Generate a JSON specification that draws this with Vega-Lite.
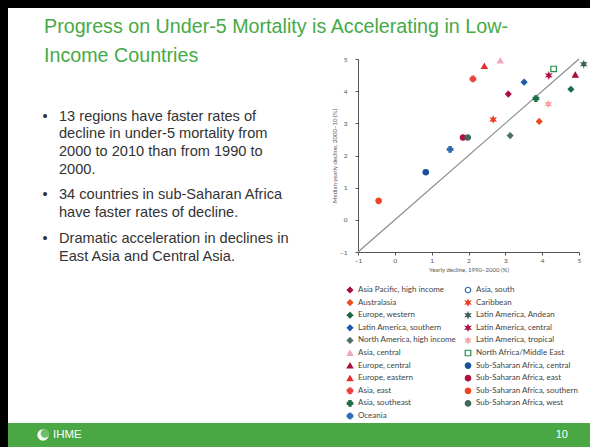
{
  "$schema": "https://vega.github.io/schema/vega-lite/v6.json",
  "padding": 0,
  "background": "white",
  "columns": 3,
  "spacing": 0,
  "bounds": "flush",
  "align": "each",
  "config": {"view": {"stroke": null}, "font": "Liberation Sans"},
  "resolve": {"scale": {"shape": "independent", "fill": "independent", "stroke": "independent"}},
  "datasets": {
    "regions": [
      {"region": "Asia Pacific, high income", "d1990": 3.08, "d2000": 3.91},
      {"region": "Australasia", "d1990": 3.92, "d2000": 3.06},
      {"region": "Europe, western", "d1990": 4.78, "d2000": 4.06},
      {"region": "Latin America, southern", "d1990": 3.51, "d2000": 4.28},
      {"region": "North America, high income", "d1990": 3.13, "d2000": 2.62},
      {"region": "Asia, central", "d1990": 2.86, "d2000": 4.95},
      {"region": "Europe, central", "d1990": 4.9, "d2000": 4.51},
      {"region": "Europe, eastern", "d1990": 2.43, "d2000": 4.78},
      {"region": "Asia, east", "d1990": 2.12, "d2000": 4.38},
      {"region": "Asia, southeast", "d1990": 3.83, "d2000": 3.77},
      {"region": "Oceania", "d1990": 1.5, "d2000": 2.19},
      {"region": "Caribbean", "d1990": 2.67, "d2000": 3.12},
      {"region": "Latin America, Andean", "d1990": 5.13, "d2000": 4.84},
      {"region": "Latin America, central", "d1990": 4.18, "d2000": 4.49},
      {"region": "Latin America, tropical", "d1990": 4.17, "d2000": 3.6},
      {"region": "North Africa/Middle East", "d1990": 4.31, "d2000": 4.69},
      {"region": "Sub-Saharan Africa, central", "d1990": 0.84, "d2000": 1.48},
      {"region": "Sub-Saharan Africa, east", "d1990": 1.85, "d2000": 2.56},
      {"region": "Sub-Saharan Africa, southern", "d1990": -0.44, "d2000": 0.59},
      {"region": "Sub-Saharan Africa, west", "d1990": 1.98, "d2000": 2.56}
    ],
    "diagonal": [{"d1990": -1, "d2000": -1}, {"d1990": 5, "d2000": 5}],
    "title": [{"t": "Progress on Under-5 Mortality is Accelerating in Low-\nIncome Countries"}],
    "bullets": [
      {"line": 1, "bullet": "•", "text": "13 regions have faster rates of"},
      {"line": 2, "text": "decline in under-5 mortality from"},
      {"line": 3, "text": "2000 to 2010 than from 1990 to"},
      {"line": 4, "text": "2000."},
      {"line": 5.42, "bullet": "•", "text": "34 countries in sub-Saharan Africa"},
      {"line": 6.46, "text": "have faster rates of decline."},
      {"line": 7.91, "bullet": "•", "text": "Dramatic acceleration in declines in"},
      {"line": 8.91, "text": "East Asia and Central Asia."}
    ],
    "footer": [{"label": "IHME", "page": "10"}],
    "frame": [{"part": "border"}]
  },
  "concat": [
    {"width": 8, "height": 8, "view": {"fill": "#000000"}, "data": {"name": "frame"}, "layer": [{"mark": {"type": "rule", "color": "#000000", "strokeWidth": 8, "clip": true}, "encoding": {"x": {"value": 4}, "y": {"value": 0}, "y2": {"value": "height"}}}]},
    {"width": 350, "height": 8, "view": {"fill": "#000000"}, "data": {"name": "frame"}, "layer": [{"mark": {"type": "rule", "color": "#000000", "strokeWidth": 8, "clip": true}, "encoding": {"y": {"value": 4}, "x": {"value": 0}, "x2": {"value": "width"}}}]},
    {"width": 232, "height": 8, "view": {"fill": "#000000"}, "data": {"name": "frame"}, "layer": [{"mark": {"type": "rule", "color": "#000000", "strokeWidth": 8, "clip": true}, "encoding": {"y": {"value": 4}, "x": {"value": 0}, "x2": {"value": "width"}}}]},

    {"width": 8, "height": 51, "view": {"fill": "#000000"}, "data": {"name": "frame"}, "layer": [{"mark": {"type": "rule", "color": "#000000", "strokeWidth": 8, "clip": true}, "encoding": {"x": {"value": 4}, "y": {"value": 0}, "y2": {"value": "height"}}}]},
    {
      "width": 350, "height": 51,
      "data": {"name": "title"},
      "layer": [
        {
          "mark": {"type": "text", "align": "left", "baseline": "alphabetic", "font": "Liberation Sans", "fontSize": 19.7, "color": "#46aa46", "lineBreak": "\n", "lineHeight": 29.3},
          "encoding": {"text": {"field": "t"}, "x": {"value": 36}, "y": {"value": 24.5}}
        }
      ]
    },
    {"width": 232, "height": 51, "data": {"name": "frame"}, "layer": [{"mark": {"type": "rect", "opacity": 0}, "encoding": {"x": {"value": 0}, "x2": {"value": "width"}, "y": {"value": 0}, "y2": {"value": "height"}}}]},

    {"width": 8, "height": 364, "view": {"fill": "#000000"}, "data": {"name": "frame"}, "layer": [{"mark": {"type": "rule", "color": "#000000", "strokeWidth": 8, "clip": true}, "encoding": {"x": {"value": 4}, "y": {"value": 0}, "y2": {"value": "height"}}}]},
    {
      "width": 350, "height": 364,
      "data": {"name": "bullets"},
      "encoding": {
        "y": {"field": "line", "type": "quantitative", "scale": {"domain": [-2.26, 18.3], "reverse": true, "nice": false, "zero": false}, "axis": null}
      },
      "layer": [
        {
          "transform": [{"filter": "isValid(datum.bullet)"}],
          "mark": {"type": "text", "align": "center", "baseline": "middle", "font": "Liberation Sans", "fontSize": 14.5, "color": "#333333"},
          "encoding": {"text": {"field": "bullet"}, "x": {"value": 37}}
        },
        {
          "mark": {"type": "text", "align": "left", "baseline": "middle", "font": "Liberation Sans", "fontSize": 14.6, "color": "#333333"},
          "encoding": {"text": {"field": "text"}, "x": {"value": 51}}
        }
      ]
    },
    {
      "width": 221, "height": 193,
      "encoding": {
        "x": {
          "field": "d1990", "type": "quantitative",
          "scale": {"domain": [-1, 5], "nice": false, "zero": false},
          "axis": {"title": "Yearly decline, 1990–2000 (%)", "values": [-1, 0, 1, 2, 3, 4, 5], "grid": false, "labelFlush": false, "domainColor": "#555555", "tickColor": "#555555", "tickSize": 3, "labelFont": "Lato", "labelFontSize": 6.5, "labelColor": "#555555", "labelPadding": 2, "titleFont": "Lato", "titleFontSize": 6, "titleFontWeight": "normal", "titleColor": "#555555", "titlePadding": 3}
        },
        "y": {
          "field": "d2000", "type": "quantitative",
          "scale": {"domain": [-1, 5], "nice": false, "zero": false},
          "axis": {"title": "Median yearly decline, 2000–10 (%)", "values": [-1, 0, 1, 2, 3, 4, 5], "grid": false, "labelFlush": false, "domainColor": "#555555", "tickColor": "#555555", "tickSize": 3, "labelFont": "Lato", "labelFontSize": 6.5, "labelColor": "#555555", "labelPadding": 8, "titleFont": "Lato", "titleFontSize": 6, "titleFontWeight": "normal", "titleColor": "#555555", "titlePadding": 2}
        }
      },
      "layer": [
        {
          "data": {"name": "diagonal"},
          "mark": {"type": "line", "color": "#8f8f8f", "strokeWidth": 1.3}
        },
        {
          "data": {"name": "regions"},
          "mark": {"type": "point", "size": 30, "strokeWidth": 1.2, "opacity": 1},
          "encoding": {
            "shape": {
              "field": "region", "type": "nominal",
              "scale": {
                "domain": ["Asia Pacific, high income", "Australasia", "Europe, western", "Latin America, southern", "North America, high income", "Asia, central", "Europe, central", "Europe, eastern", "Asia, east", "Asia, southeast", "Oceania", "Asia, south", "Caribbean", "Latin America, Andean", "Latin America, central", "Latin America, tropical", "North Africa/Middle East", "Sub-Saharan Africa, central", "Sub-Saharan Africa, east", "Sub-Saharan Africa, southern", "Sub-Saharan Africa, west"],
                "range": ["diamond", "diamond", "diamond", "diamond", "diamond", "triangle-up", "triangle-up", "triangle-up", "cross", "cross", "cross", "circle", "M0,-1L0.225,-0.39L0.866,-0.5L0.45,0L0.866,0.5L0.225,0.39L0,1L-0.225,0.39L-0.866,0.5L-0.45,0L-0.866,-0.5L-0.225,-0.39Z", "M0,-1L0.225,-0.39L0.866,-0.5L0.45,0L0.866,0.5L0.225,0.39L0,1L-0.225,0.39L-0.866,0.5L-0.45,0L-0.866,-0.5L-0.225,-0.39Z", "M0,-1L0.225,-0.39L0.866,-0.5L0.45,0L0.866,0.5L0.225,0.39L0,1L-0.225,0.39L-0.866,0.5L-0.45,0L-0.866,-0.5L-0.225,-0.39Z", "M0,-1L0.225,-0.39L0.866,-0.5L0.45,0L0.866,0.5L0.225,0.39L0,1L-0.225,0.39L-0.866,0.5L-0.45,0L-0.866,-0.5L-0.225,-0.39Z", "square", "circle", "circle", "circle", "circle"]
              },
              "legend": {"title": null, "orient": "none", "legendX": -12, "legendY": 227, "columns": 2, "columnPadding": 7, "rowPadding": 4.6, "symbolSize": 30, "symbolStrokeWidth": 1.2, "labelFont": "Lato", "labelFontSize": 8, "labelColor": "#444444", "labelOffset": 4, "clipHeight": 8, "labelLimit": 200, "symbolOpacity": 1, "padding": 0}
            },
            "fill": {
              "field": "region", "type": "nominal",
              "scale": {
                "domain": ["Asia Pacific, high income", "Australasia", "Europe, western", "Latin America, southern", "North America, high income", "Asia, central", "Europe, central", "Europe, eastern", "Asia, east", "Asia, southeast", "Oceania", "Asia, south", "Caribbean", "Latin America, Andean", "Latin America, central", "Latin America, tropical", "North Africa/Middle East", "Sub-Saharan Africa, central", "Sub-Saharan Africa, east", "Sub-Saharan Africa, southern", "Sub-Saharan Africa, west"],
                "range": ["#a50f3f", "#ec4a25", "#1a6b46", "#1f5aa8", "#4f6f64", "#f0a8b8", "#a81035", "#e3302e", "#e8423b", "#1f6e48", "#2c6cb3", "#ffffff", "#ee3f24", "#3d5f57", "#b0103f", "#f2a5a8", "#ffffff", "#17509f", "#b0103d", "#ef4626", "#3e6a5d"]
              },
              "legend": {"title": null, "orient": "none", "legendX": -12, "legendY": 227, "columns": 2, "columnPadding": 7, "rowPadding": 4.6, "symbolSize": 30, "symbolStrokeWidth": 1.2, "labelFont": "Lato", "labelFontSize": 8, "labelColor": "#444444", "labelOffset": 4, "clipHeight": 8, "labelLimit": 200, "symbolOpacity": 1, "padding": 0}
            },
            "stroke": {
              "field": "region", "type": "nominal",
              "scale": {
                "domain": ["Asia Pacific, high income", "Australasia", "Europe, western", "Latin America, southern", "North America, high income", "Asia, central", "Europe, central", "Europe, eastern", "Asia, east", "Asia, southeast", "Oceania", "Asia, south", "Caribbean", "Latin America, Andean", "Latin America, central", "Latin America, tropical", "North Africa/Middle East", "Sub-Saharan Africa, central", "Sub-Saharan Africa, east", "Sub-Saharan Africa, southern", "Sub-Saharan Africa, west"],
                "range": ["#a50f3f", "#ec4a25", "#1a6b46", "#1f5aa8", "#4f6f64", "#f0a8b8", "#a81035", "#e3302e", "#e8423b", "#1f6e48", "#2c6cb3", "#2d63ae", "#ee3f24", "#3d5f57", "#b0103f", "#f2a5a8", "#228b4d", "#17509f", "#b0103d", "#ef4626", "#3e6a5d"]
              },
              "legend": {"title": null, "orient": "none", "legendX": -12, "legendY": 227, "columns": 2, "columnPadding": 7, "rowPadding": 4.6, "symbolSize": 30, "symbolStrokeWidth": 1.2, "labelFont": "Lato", "labelFontSize": 8, "labelColor": "#444444", "labelOffset": 4, "clipHeight": 8, "labelLimit": 200, "symbolOpacity": 1, "padding": 0}
            }
          }
        }
      ]
    },

    {"width": 8, "height": 24, "view": {"fill": "#000000"}, "data": {"name": "frame"}, "layer": [{"mark": {"type": "rule", "color": "#000000", "strokeWidth": 8, "clip": true}, "encoding": {"x": {"value": 4}, "y": {"value": 0}, "y2": {"value": "height"}}}]},
    {
      "width": 350, "height": 24,
      "view": {"fill": "#4aa844"},
      "data": {"name": "footer"},
      "layer": [
        {"mark": {"type": "rect", "color": "#4aa844"}, "encoding": {"x": {"value": 0}, "x2": {"value": "width"}, "y": {"value": 0}, "y2": {"value": "height"}}},
        {"mark": {"type": "point", "shape": "circle", "filled": true, "size": 130, "color": "#ffffff", "opacity": 0.95}, "encoding": {"x": {"value": 35}, "y": {"value": 12}}},
        {"mark": {"type": "point", "shape": "circle", "filled": true, "size": 75, "color": "#6cbf66", "opacity": 1}, "encoding": {"x": {"value": 37}, "y": {"value": 10.5}}},
        {"mark": {"type": "text", "align": "left", "baseline": "middle", "font": "Liberation Sans", "fontSize": 11.5, "color": "#ffffff"}, "encoding": {"text": {"field": "label"}, "x": {"value": 45}, "y": {"value": 12}}}
      ]
    },
    {
      "width": 232, "height": 24,
      "view": {"fill": "#4aa844"},
      "data": {"name": "footer"},
      "layer": [
        {"mark": {"type": "rect", "color": "#4aa844"}, "encoding": {"x": {"value": 0}, "x2": {"value": "width"}, "y": {"value": 0}, "y2": {"value": "height"}}},
        {"mark": {"type": "text", "align": "right", "baseline": "middle", "font": "Liberation Sans", "fontSize": 11, "color": "#ffffff"}, "encoding": {"text": {"field": "page"}, "x": {"value": 210}, "y": {"value": 12}}}
      ]
    }
  ]
}
